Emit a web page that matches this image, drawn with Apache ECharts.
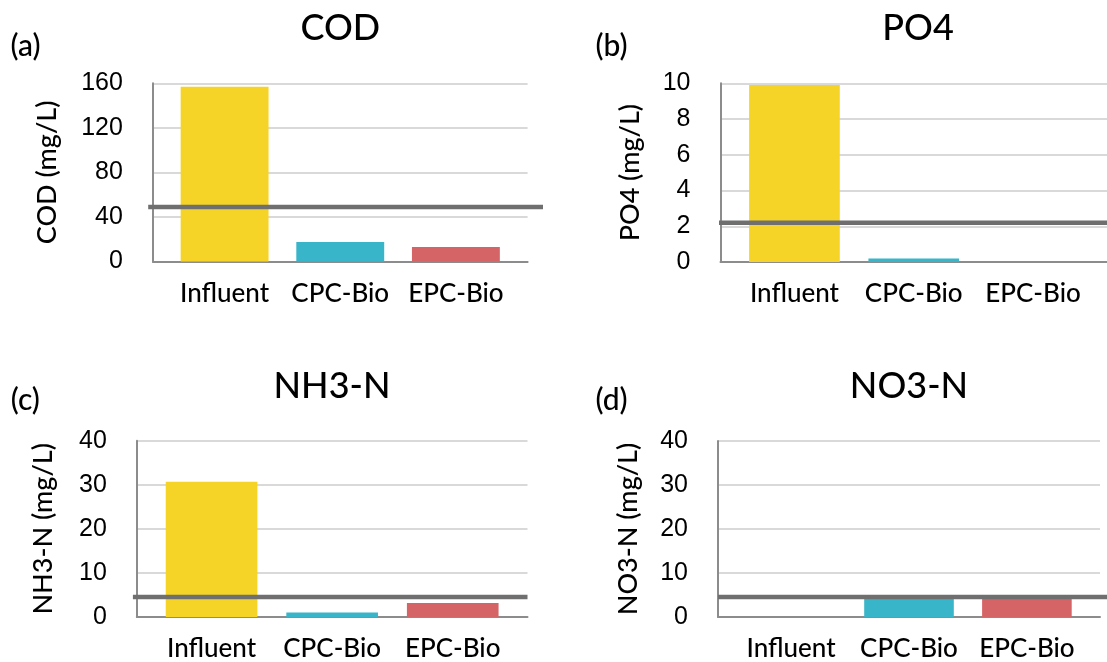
<!DOCTYPE html>
<html>
<head>
<meta charset="utf-8">
<script src="https://cdn.jsdelivr.net/npm/echarts@6/dist/echarts.min.js"></script>
<style>
html,body{margin:0;padding:0;background:#fff;}
#chart{width:1107px;height:662px;}
</style>
</head>
<body>
<div id="chart"></div>
<script>
// ---- data ----
const categories = ['Influent', 'CPC-Bio', 'EPC-Bio'];
const codValues = [157, 17.5, 13];
const po4Values = [9.9, 0.2, 0];
const nh3Values = [30.7, 1.0, 3.2];
const no3Values = [0, 4.6, 4.6];
const limitValues = [49, 2.2, 5, 5];
const panelTitles = ['COD', 'PO4', 'NH3-N', 'NO3-N'];
const panelTags = ['(a)', '(b)', '(c)', '(d)'];
const yAxisNames = ['COD (mg/L)', 'PO4 (mg/L)', 'NH3-N (mg/L)', 'NO3-N (mg/L)'];
const yMaxValues = [160, 10, 40, 40];
const yStepValues = [40, 2, 10, 10];
const barColors = ['#F5D327', '#39B5C9', '#D56467'];

const panelValues = [codValues, po4Values, nh3Values, no3Values];

// ---- layout (positions / styles) ----
const layout = [
  {left:152.9, width:374.7, top:83.3, height:178.2, lineLeft:148.2, lineWidth:394.8, nameGap:92, titleX:340.3, titleY:28.4, tagX:25.5, tagY:46.5},
  {left:720.5, width:398,   top:83.3, height:178.7, lineLeft:719,   lineWidth:400,   nameGap:77, titleX:918,   titleY:28.4, tagX:611.5, tagY:46.5},
  {left:136.8, width:390.7, top:440.7, height:178.6, lineLeft:132.9, lineWidth:394.6, nameGap:80, titleX:332, titleY:386.7, tagX:25.4, tagY:400.7},
  {left:718,   width:382,   top:441,  height:178.3, lineLeft:718,   lineWidth:400,   nameGap:76, titleX:909,   titleY:386.7, tagX:611.5, tagY:400.5}
];

const titleFont = 'Lato';
const tickFont = 'Liberation Sans';

const grids = [], xAxes = [], yAxes = [], series = [], titles = [];

layout.forEach((L, i) => {
  grids.push({left: L.left, top: L.top, width: L.width, height: L.height, containLabel: false});
  xAxes.push({
    type: 'value', gridIndex: i, min: -0.62, max: 2.62,
    axisLine: {show: true, onZero: false, lineStyle: {color: '#8c8c8c', width: 2}},
    axisTick: {show: false},
    splitLine: {show: false},
    axisLabel: {
      customValues: [0, 1, 2],
      formatter: v => categories[Math.round(v)],
      fontFamily: titleFont, fontSize: 26, fontWeight: 500, color: '#000', margin: 19
    }
  });
  yAxes.push({
    type: 'value', gridIndex: i, min: 0, max: yMaxValues[i], interval: yStepValues[i],
    name: yAxisNames[i], nameLocation: 'middle', nameGap: L.nameGap,
    nameTextStyle: {fontFamily: titleFont, fontSize: 27, fontWeight: 500, color: '#000'},
    axisLine: {show: true, onZero: false, lineStyle: {color: '#8c8c8c', width: 2}},
    axisTick: {show: false},
    splitLine: {show: true, lineStyle: {color: '#d9d9d9', width: 2}},
    axisLabel: {fontFamily: tickFont, fontSize: 25, color: '#000', margin: 30}
  });
  series.push({
    type: 'bar', xAxisIndex: i, yAxisIndex: i,
    barWidth: '76%',
    data: panelValues[i].map((v, k) => ({value: [k, v], itemStyle: {color: barColors[k]}})),
    z: 2
  });
  titles.push({
    text: panelTitles[i], left: L.titleX, top: L.titleY, textAlign: 'center', textVerticalAlign: 'middle', padding: 0,
    textStyle: {fontFamily: titleFont, fontSize: 36, fontWeight: 500, color: '#000'}
  });
  titles.push({
    text: panelTags[i], left: L.tagX, top: L.tagY, textAlign: 'center', textVerticalAlign: 'middle', padding: 0,
    textStyle: {fontFamily: titleFont, fontSize: 30, fontWeight: 500, color: '#000'}
  });
});

// limit lines on overlay grids
layout.forEach((L, i) => {
  const gi = grids.length;
  grids.push({left: L.lineLeft, top: L.top, width: L.lineWidth, height: L.height, containLabel: false});
  xAxes.push({type: 'value', gridIndex: gi, min: 0, max: 1, show: false});
  yAxes.push({type: 'value', gridIndex: gi, min: 0, max: yMaxValues[i], show: false});
  series.push({
    type: 'line', xAxisIndex: gi, yAxisIndex: gi, silent: true,
    symbol: 'none', z: 10,
    lineStyle: {color: '#6f6f6f', width: 4.5},
    data: [[0, limitValues[i]], [1, limitValues[i]]]
  });
});

const chart = echarts.init(document.getElementById('chart'), null, {renderer: 'canvas'});
chart.setOption({
  animation: false,
  backgroundColor: '#fff',
  title: titles,
  grid: grids,
  xAxis: xAxes,
  yAxis: yAxes,
  series: series
});
</script>
</body>
</html>
